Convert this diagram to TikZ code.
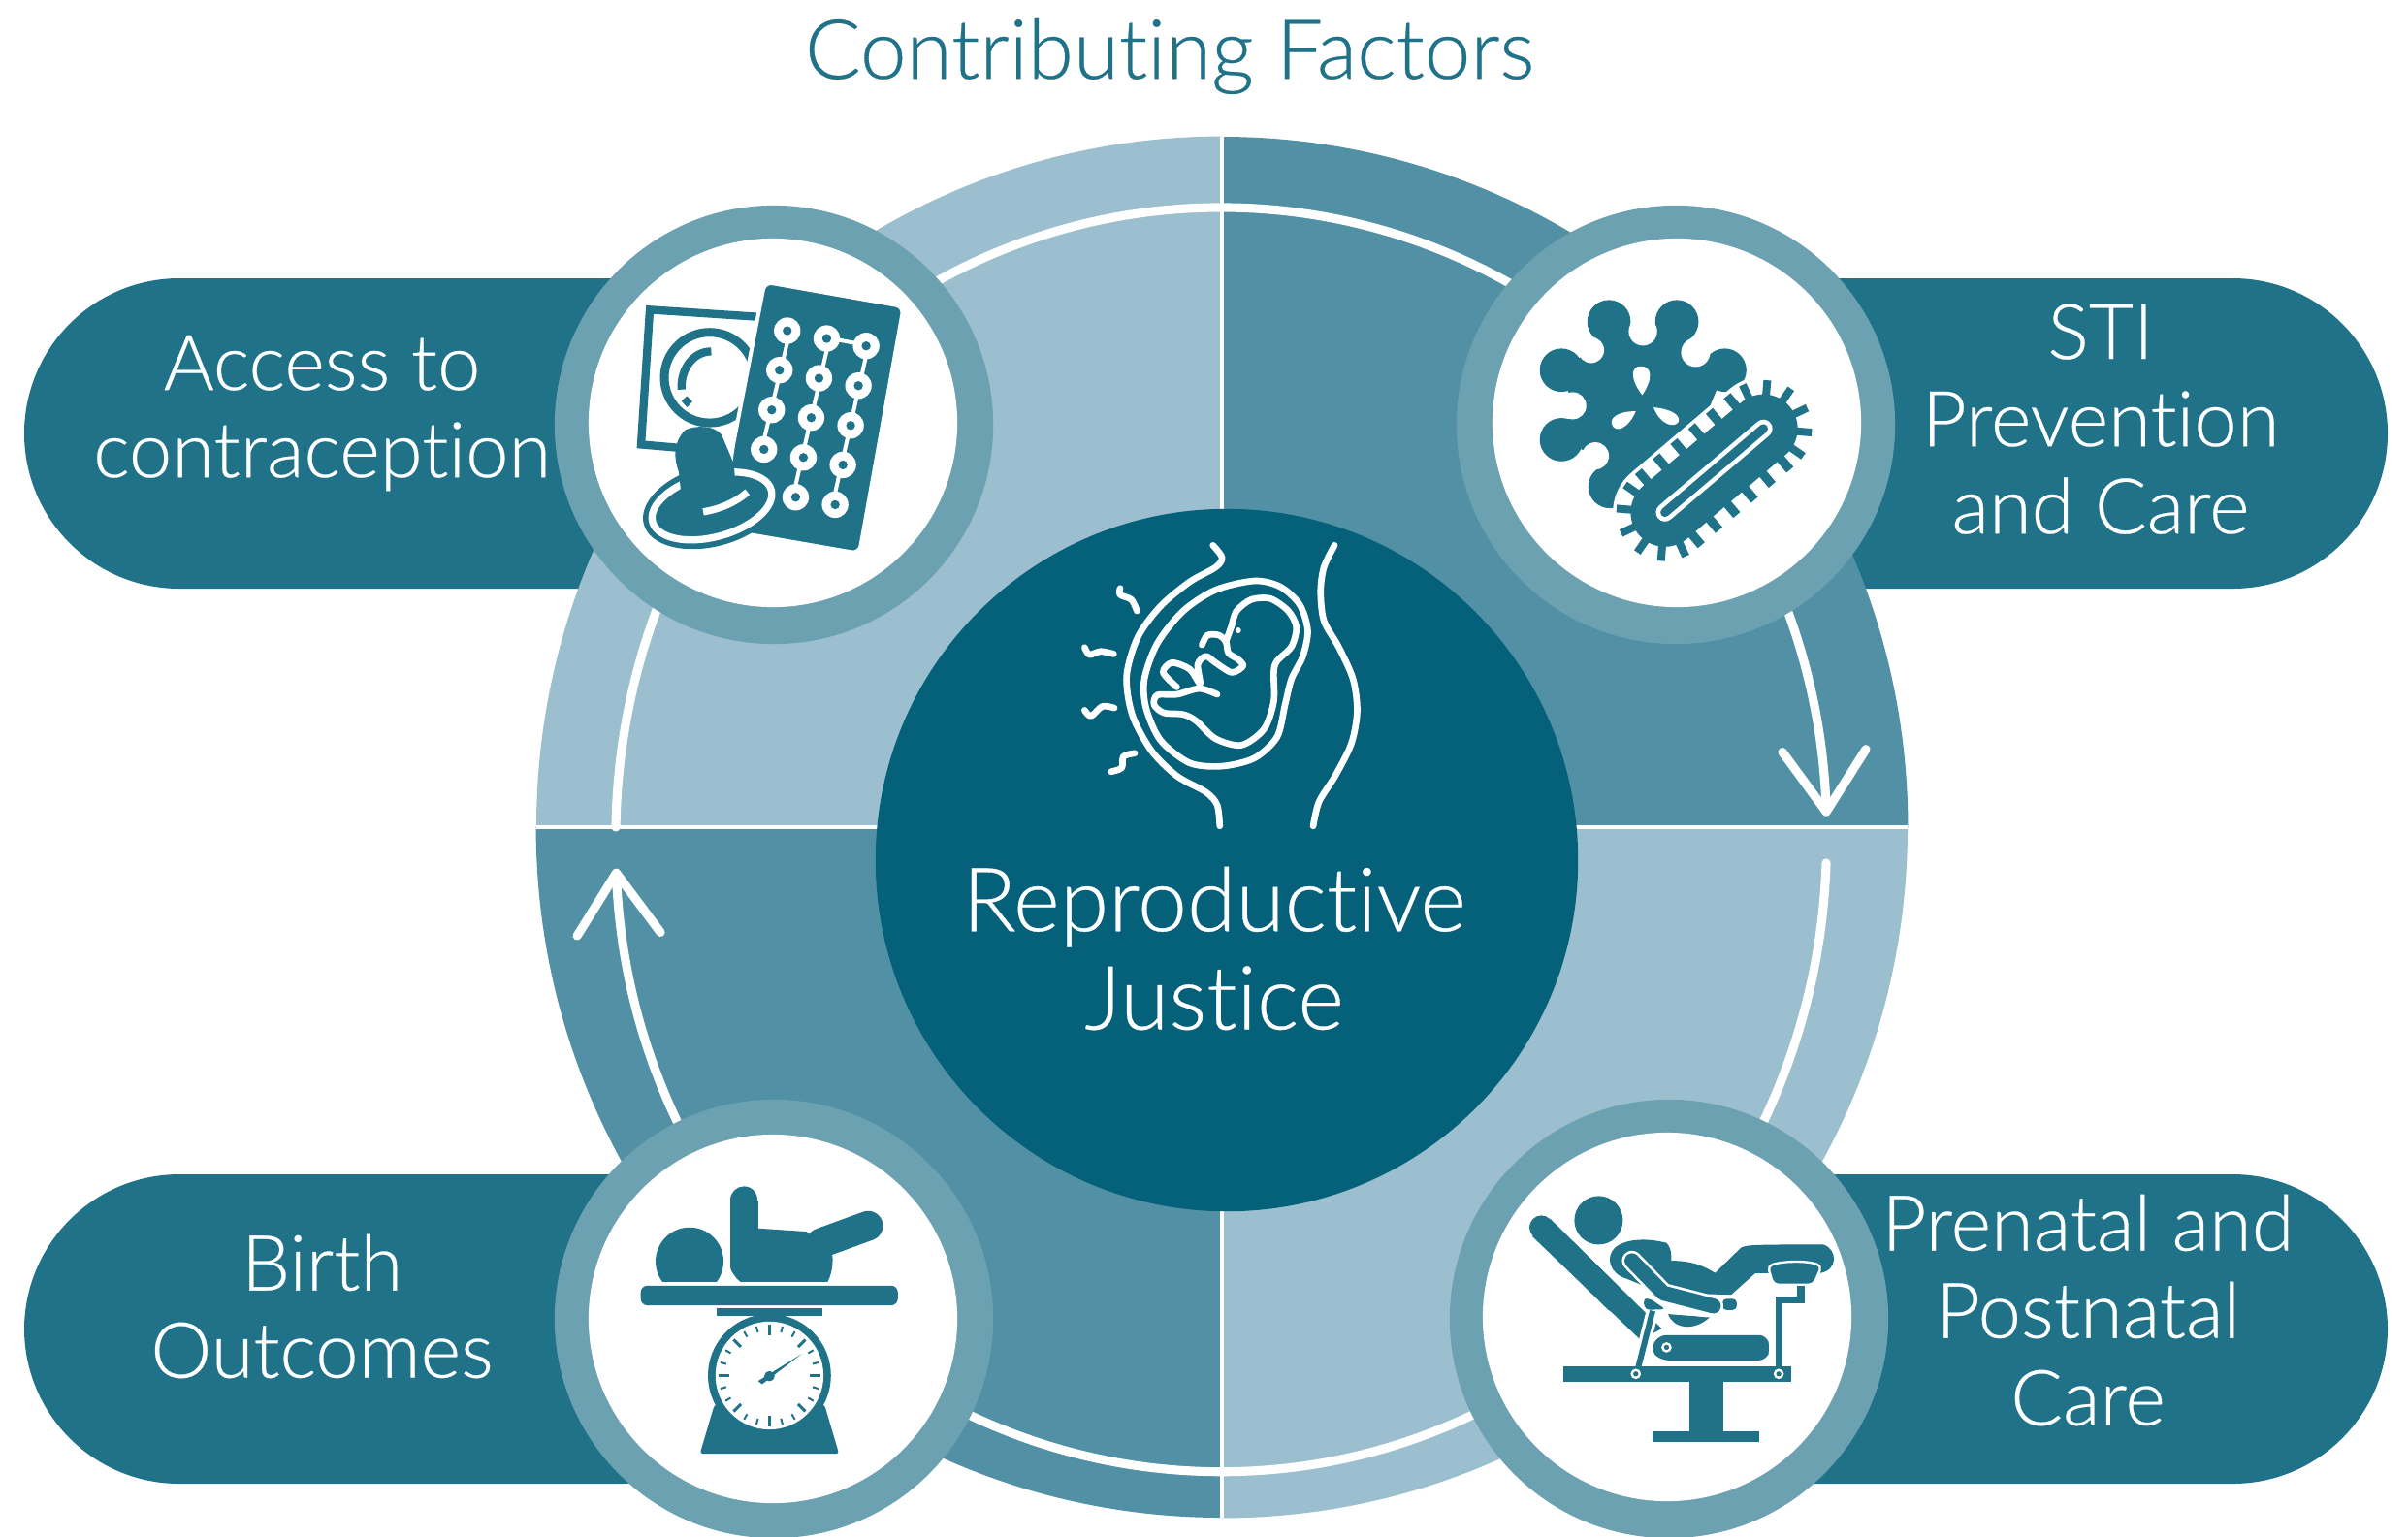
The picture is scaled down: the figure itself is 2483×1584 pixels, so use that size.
\documentclass[tikz,border=0pt]{standalone}
\usepackage{fontspec}
\setmainfont{Lato}[UprightFont=* Light,UprightFeatures={FakeBold=0.35},Ligatures=NoCommon]
\usepackage{xcolor}
\usepackage{tikz}
\usetikzlibrary{arrows.meta,calc}

\definecolor{pilltone}{HTML}{1F7288}
\definecolor{ringdark}{HTML}{5190A5}
\definecolor{ringlight}{HTML}{9BBFCE}
\definecolor{bandtone}{HTML}{6BA1B1}
\definecolor{coretone}{HTML}{05607A}

\def\zu{0.03333mm}

\begin{document}
\begin{tikzpicture}[x=0.01cm,y=-0.01cm,inner sep=0,outer sep=0,
    pillbox/.style={fill=pilltone,rounded corners=1.6cm},
    iconband/.style={fill=bandtone,circle,minimum size=4.52cm},
    iconface/.style={fill=white,circle,minimum size=3.8cm},
    whitetext/.style={text=white,align=center,font=\fontsize{22.6}{25.6}\selectfont},
    ringarrow/.style={draw=white,line width=2.6pt,line cap=round},
    zoomed/.style={x=\zu,y=-\zu},
    fetusline/.style={draw=white,line width=1.9pt,line cap=round,line join=round}]

   \useasboundingbox (0,0) rectangle (2483,1584);
   \fill[white] (0,0) rectangle (2483,1584);

   % Pills
   \fill[pillbox] (25,287) rectangle (800,607);
   \fill[pillbox] (1700,287) rectangle (2462,607);
   \fill[pillbox] (25,1211) rectangle (800,1530);
   \fill[pillbox] (1700,1211) rectangle (2462,1530);

   % The ring
   \coordinate (ring) at (1260,853);
   \coordinate (ringtop) at (1260,141);
   \coordinate (ringbottom) at (1260,1565);
   \coordinate (ringleft) at (553,853);
   \coordinate (ringright) at (1967,853);
   \fill[ringlight] (ring) -- (ringleft) arc[start angle=180,end angle=90,x radius=7.07cm,y radius=7.12cm] -- cycle;
   \fill[ringdark] (ring) -- (ringtop) arc[start angle=90,end angle=0,x radius=7.07cm,y radius=7.12cm] -- cycle;
   \fill[ringlight] (ring) -- (ringright) arc[start angle=0,end angle=-90,x radius=7.07cm,y radius=7.12cm] -- cycle;
   \fill[ringdark] (ring) -- (ringbottom) arc[start angle=270,end angle=180,x radius=7.07cm,y radius=7.12cm] -- cycle;
   \draw[white,line width=1.2pt] (ringtop) -- (ringbottom) (ringleft) -- (ringright);

   % Arrows on the ring
   \coordinate (arrowtop) at (635,853);
   \coordinate (arrowbottom) at (1883,890);
   \draw[ringarrow,-{Straight Barb[length=6.3mm,width=8.6mm,round]}] (arrowtop) arc[start angle=179,end angle=2,x radius=6.24cm,y radius=6.5cm];
   \draw[ringarrow,-{Straight Barb[length=6.3mm,width=8.6mm,round]}] (arrowbottom) arc[start angle=-2,end angle=-177.5,x radius=6.24cm,y radius=6.5cm];

   % Centre
   \node[fill=coretone,circle,minimum size=7.24cm] (core) at (1265,887) {};

   % Icon circles
   \node[iconband] (accessband) at (798,438) {};
   \node[iconface] (accessface) at (797,436) {};
   \node[iconband] (stiband) at (1728,438) {};
   \node[iconface] (stiface) at (1729,436) {};
   \node[iconband] (birthband) at (798,1360) {};
   \node[iconface] (birthface) at (797,1360) {};
   \node[iconband] (careband) at (1721,1360) {};
   \node[iconface] (careface) at (1719,1358) {};

   % Labels
   \node[text=pilltone,font=\fontsize{24.3}{28}\selectfont] (title) at (1206,58) {Contributing Factors};
   \node[whitetext] (access) at (332,426) {Access to\\contraception};
   \node[whitetext] (sti) at (2166,432) {STI\\Prevention\\and Care};
   \node[whitetext] (birth) at (332,1347) {Birth\\Outcomes};
   \node[whitetext] (care) at (2153,1351) {Prenatal and\\Postnatal\\Care};
   \node[text=white,align=center,font=\fontsize{26}{28.8}\selectfont] (justice) at (1252,978) {Reproductive\\Justice};

   % Contraception icon
   \begin{scope}[shift={(560,200)},zoomed]
      \draw[pilltone,line width=25*\zu] (665,380) -- (330,358) -- (303,775) -- (420,785);
      \draw[pilltone,fill=white,line width=27*\zu] (515,568) circle[radius=140];
      \draw[pilltone,line width=25*\zu] (520,487) .. controls (465,487) and (425,540) .. (428,605);
      \fill[pilltone] (428,640) -- (445,625) -- (462,642) -- (445,660) -- cycle;
      \draw[white,line width=12*\zu,fill=pilltone,rounded corners=0.8mm] (685,272) -- (1115,348) -- (978,1112) -- (620,1050) -- (560,1000) -- (585,790) -- cycle;
      \fill[white] (555,745) -- (597,730) -- (580,810) -- cycle;
      \draw[white,line width=12*\zu] (755,460) -- (683,760) (877,485) -- (781,900) (999,500) -- (903,925) (890,447) -- (985,465);
      \foreach \dotx/\doty in {755/423,731/545,707/668,683/790,877/447,853/570,829/692,805/815,781/938,999/470,975/593,951/716,927/838,903/961} {
         \fill[white] (\dotx,\doty) circle[radius=41];
         \fill[pilltone] (\dotx,\doty) circle[radius=14];
      }
      \fill[pilltone,rotate around={15:(522,965)}] (522,965) ellipse[x radius=218,y radius=125];
      \draw[white,line width=22*\zu,rotate around={15:(522,965)}] (522,965) ellipse[x radius=190,y radius=96];
      \fill[pilltone] (440,730) .. controls (470,715) and (530,715) .. (552,745) -- (590,835) -- (600,960) -- (430,960) -- (420,860) .. controls (405,820) and (400,770) .. (440,730);
      \draw[white,line width=22*\zu] (495,983) .. controls (550,975) and (600,950) .. (632,922);
   \end{scope}

   % Virus icon
   \begin{scope}[shift={(1490,200)},zoomed]
      \fill[pilltone] (507,395) -- (612,430) -- (717,395) -- (775,490) -- (865,545) -- (760,800) -- (510,905) -- (465,810) -- (360,760) -- (395,655) -- (360,545) -- (452,483) -- cycle;
      \foreach \lobex/\lobey in {507/395,717/395,865/545,360/545,360/760,510/905}
         \fill[pilltone] (\lobex,\lobey) circle[radius=67];
      \foreach \notchx/\notchy/\notchr in {612/425/44,775/490/45,452/483/40,395/655/42,465/810/42}
         \fill[white] (\notchx,\notchy) circle[radius=\notchr];
      \fill[white] (610,622) .. controls (570,570) and (575,533) .. (605,533) .. controls (640,533) and (645,570) .. (610,622);
      \fill[white] (590,672) .. controls (530,672) and (510,695) .. (516,712) .. controls (525,740) and (565,730) .. (590,672);
      \fill[white] (645,660) .. controls (700,665) and (730,685) .. (722,705) .. controls (710,725) and (665,715) .. (645,660);
      \begin{scope}[shift={(680,985)},rotate=40.4]
         \draw[white,line width=322*\zu,line cap=round] (0,0) -- (400,0);
         \draw[pilltone,line width=212*\zu,line cap=round] (0,0) -- (400,0);
         \foreach \spike in {20,92,...,400} {
            \draw[pilltone,line width=28*\zu] (\spike,95) -- (\spike,150);
            \draw[pilltone,line width=28*\zu] (\spike,-95) -- (\spike,-150);
         }
         \foreach \a in {-75,-45,...,75} {
            \draw[pilltone,line width=24*\zu] ({400+95*cos(\a)},{95*sin(\a)}) -- ({400+150*cos(\a)},{150*sin(\a)});
            \draw[pilltone,line width=24*\zu] ({-95*cos(\a)},{95*sin(\a)}) -- ({-150*cos(\a)},{150*sin(\a)});
         }
         \draw[white,line width=56*\zu,line cap=round] (0,0) -- (400,0);
         \draw[pilltone,line width=28*\zu,line cap=round] (0,0) -- (400,0);
      \end{scope}
   \end{scope}

   % Baby scale icon
   \begin{scope}[shift={(560,1120)},zoomed]
      \begin{scope}
         \clip (300,300) rectangle (600,605);
         \fill[pilltone] (453,542) circle[radius=105];
      \end{scope}
      \draw[pilltone,line width=84*\zu,line cap=round] (622,352) -- (622,555);
      \draw[pilltone,line width=92*\zu,line cap=round] (1005,432) -- (860,485);
      \fill[pilltone] (590,350) -- (665,355) -- (665,440) -- (815,450) -- (895,525) .. controls (897,560) and (890,585) .. (880,605) -- (610,605) .. controls (590,590) and (582,570) .. (580,550) -- cycle;
      \fill[pilltone,rounded corners=0.7mm] (302,617) rectangle (1097,678);
      \fill[pilltone] (536,688) rectangle (863,710);
      \fill[pilltone,rounded corners=0.3mm] (530,985) -- (485,1137) -- (915,1137) -- (870,985) -- cycle;
      \fill[pilltone] (700,895) circle[radius=190];
      \fill[white] (700,895) circle[radius=167];
      \foreach \a in {0,45,...,315}
         \draw[pilltone,line width=9*\zu] ({700+157*cos(\a)},{895+157*sin(\a)}) -- ({700+125*cos(\a)},{895+125*sin(\a)});
      \foreach \a in {15,30,60,75,105,120,150,165,195,210,240,255,285,300,330,345}
         \draw[pilltone,line width=6*\zu] ({700+157*cos(\a)},{895+157*sin(\a)}) -- ({700+138*cos(\a)},{895+138*sin(\a)});
      \fill[pilltone] (665,912) -- (800,828) -- (677,922) -- cycle;
      \fill[pilltone] (700,897) circle[radius=16];
   \end{scope}

   % Exam chair icon
   \begin{scope}[shift={(1480,1120)},zoomed]
      \fill[pilltone] (505,415) circle[radius=75];
      \draw[pilltone,line width=74*\zu,line cap=round] (328,437) -- (560,665);
      \fill[pilltone] (300,465) -- (355,410) -- (700,750) -- (635,785) -- cycle;
      \fill[white] (690,700) -- (780,700) -- (780,770) -- (728,770) -- cycle;
      % Body and leg
      \fill[pilltone] (555,500) .. controls (590,470) and (660,470) .. (715,485) .. controls (730,500) and (730,520) .. (730,540) .. controls (790,540) and (830,555) .. (865,578) -- (945,500) .. controls (960,490) and (1000,490) .. (1200,490) .. controls (1245,505) and (1245,570) .. (1190,578) -- (990,578) -- (915,645) -- (700,640) -- (590,595) .. controls (540,580) and (525,530) .. (555,500);
      \fill[pilltone] (720,705) .. controls (735,750) and (800,760) .. (848,715) -- cycle;
      % Arm
      \fill[pilltone,rounded corners=0.4mm] (888,658) rectangle (932,692);
      \draw[white,line width=62*\zu,line cap=round,line join=round] (608,540) -- (705,640) -- (860,680);
      \draw[pilltone,line width=46*\zu,line cap=round,line join=round] (608,540) -- (705,640) -- (860,680);
      \draw[white,line width=6*\zu] (645,650) -- (720,695) -- (840,712);
      \fill[pilltone,rounded corners=0.4mm] (642,660) -- (660,655) -- (712,690) -- (650,692) -- cycle;
      % Seat
      \fill[pilltone,rounded corners=0.8mm] (690,770) -- (1025,770) -- (1035,810) -- (1025,848) -- (695,848) -- (665,815) -- cycle;
      \fill[white] (715,808) circle[radius=16];
      \fill[pilltone] (715,808) circle[radius=8];
      % Stirrup and its post
      \fill[pilltone] (1052,650) rectangle (1075,866);
      \fill[pilltone] (1052,650) rectangle (1142,672);
      \fill[pilltone] (1118,605) rectangle (1142,672);
      \draw[white,fill=pilltone,line width=7*\zu,rounded corners=0.5mm] (1028,556) .. controls (1080,540) and (1150,540) .. (1195,556) -- (1170,614) -- (1045,614) -- cycle;
      % Strut and base
      \draw[white,line width=38*\zu] (625,880) -- (672,695);
      \draw[pilltone,line width=18*\zu] (625,880) -- (672,695);
      \fill[pilltone] (395,866) rectangle (1100,916);
      \foreach \holex in {620,1062} {
         \fill[white] (\holex,890) circle[radius=16];
         \fill[pilltone] (\holex,890) circle[radius=8];
      }
      \fill[pilltone] (785,916) rectangle (890,1068);
      \fill[pilltone] (672,1068) rectangle (1003,1100);
   \end{scope}

   % Fetus icon
   \begin{scope}[shift={(1080,530)},zoomed]
      \draw[fetusline] plot[smooth] coordinates {(512,97) (540,135) (520,165) (440,210) (350,285) (280,380) (245,500) (262,620) (320,730) (400,810) (490,860) (525,900) (533,965)};
      \draw[fetusline] plot[smooth] coordinates {(888,97) (855,165) (845,240) (855,330) (900,410) (945,510) (958,610) (940,710) (890,810) (840,890) (822,965)};
      \draw[fetusline] plot[smooth cycle] coordinates {(640,207) (720,225) (780,280) (805,360) (790,440) (755,510) (735,590) (710,690) (640,755) (540,780) (440,770) (350,700) (305,600) (300,510) (340,400) (420,300) (520,235)};
      \draw[fetusline] plot[smooth] coordinates {(570,345) (585,300) (630,265) (690,262) (745,300) (770,350) (755,410) (710,455) (700,490) (700,580) (670,665) (600,715) (520,695) (460,640) (420,620) (360,615) (330,590) (340,560) (400,558) (470,540) (525,558)};
      \draw[fetusline] plot[smooth] coordinates {(400,535) (358,490) (385,460) (440,480) (472,525) (465,465) (490,440) (520,460) (570,490) (605,470) (590,450) (560,430) (552,395) (530,375) (495,375) (478,405)};
      \draw[fetusline] (552,395) -- (570,345);
      \fill[white] (590,360) circle[radius=9];
      \draw[fetusline] plot[smooth] coordinates {(225,230) (225,250) (260,265) (277,300)};
      \draw[fetusline] plot[smooth] coordinates {(115,413) (130,435) (165,425) (205,433)};
      \draw[fetusline] plot[smooth] coordinates {(115,607) (135,625) (170,595) (207,600)};
      \draw[fetusline] plot[smooth] coordinates {(270,740) (235,750) (230,785) (197,797)};
   \end{scope}

\end{tikzpicture}
\end{document}
